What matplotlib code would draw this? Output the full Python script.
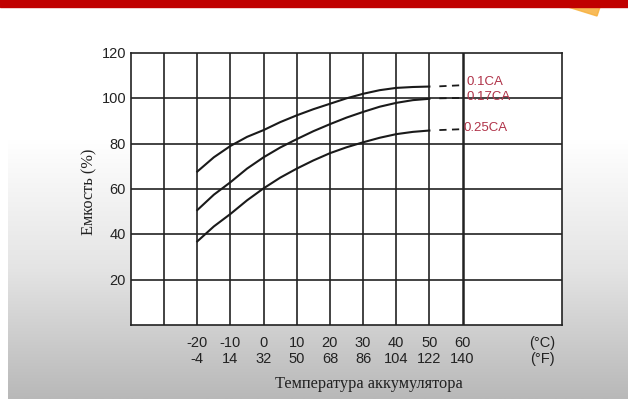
import numpy as np
import matplotlib
matplotlib.use("Agg")
import matplotlib.pyplot as plt
from matplotlib.patches import Polygon, Rectangle

## -- data
temp_c = [-20, -15, -10, -5, 0, 5, 10, 15, 20, 25, 30, 35, 40, 45, 50]
cap_01 = [67.7, 74, 79, 83, 86, 89.5, 92.5, 95.2, 97.6, 100, 102, 103.6, 104.6, 105, 105.2]
cap_017 = [50.7, 57.5, 63, 69, 74, 78.3, 82, 85.5, 88.6, 91.5, 94, 96.3, 98, 99.2, 99.8]
cap_025 = [36.9, 43.5, 49, 55, 60.3, 65, 69, 72.6, 75.8, 78.4, 80.6, 82.6, 84.2, 85.2, 85.8]

dash_t = [53, 60]
dash_01 = [105.3, 105.8]
dash_017 = [100.0, 100.2]
dash_025 = [86.0, 86.4]

labels = ["0.1CA", "0.17CA", "0.25CA"]
label_y = [107.5, 101.0, 87.5]

tick_c = [-20, -10, 0, 10, 20, 30, 40, 50, 60]
tick_f = [-4, 14, 32, 50, 68, 86, 104, 122, 140]
yticks = [20, 40, 60, 80, 100, 120]

W, H = 628, 406
fig = plt.figure(figsize=(W / 100, H / 100), dpi=100)
fig.patch.set_facecolor("white")

## -- slide background: gray gradient panel, red bar, orange corner
bg = fig.add_axes([0, 0, 1, 1], zorder=-10)
bg.axis("off")
grad = np.linspace(0, 1, 256).reshape(-1, 1)
cmap = matplotlib.colors.LinearSegmentedColormap.from_list("g", ["#ffffff", "#e4e4e4", "#b8b8b8"])
bg.imshow(grad, extent=(8, W, 400, 140), cmap=cmap, aspect="auto", zorder=0)
bg.add_patch(Rectangle((0, 0), W, 8, color="#c00000", zorder=2))
bg.add_patch(Polygon([(568, 8), (600, 8), (597, 17)], closed=True, color="#f7b03c", alpha=0.85, zorder=1))
bg.set_xlim(0, W)
bg.set_ylim(H, 0)

## -- chart
ax = fig.add_axes([131 / W, 1 - 326 / H, (562 - 131) / W, (326 - 54) / H])
ax.set_facecolor("white")
ax.set_xlim(-40, 90)
ax.set_ylim(0, 120)

for x in range(-30, 70, 10):
    ax.axvline(x, color="#222222", lw=1.8 if x == 60 else 1.2, zorder=1)
for y in yticks[:-1]:
    ax.axhline(y, color="#222222", lw=1.2, zorder=1)
for s in ax.spines.values():
    s.set_color("#222222")
    s.set_linewidth(1.2)

for vals, d in [(cap_01, dash_01), (cap_017, dash_017), (cap_025, dash_025)]:
    ax.plot(temp_c, vals, color="#1a1a1a", lw=1.5, zorder=3)
    ax.plot(dash_t, d, color="#1a1a1a", lw=1.3, ls=(0, (4, 3)), zorder=3)

for lab, ly in zip(labels, label_y):
    ax.text(61.2 if lab != "0.25CA" else 60.2, ly, lab, color="#b03349", fontsize=9.5,
            family="Liberation Sans", va="center", ha="left", zorder=4)

ax.set_xticks([])
ax.set_yticks([])
for y in yticks:
    ax.text(-41.5, y, str(y), ha="right", va="center", fontsize=10.5,
            family="Liberation Sans", color="#222222")

for c, f in zip(tick_c, tick_f):
    ax.text(c, -4.5, str(c), ha="center", va="top", fontsize=10.5,
            family="Liberation Sans", color="#222222")
    ax.text(c, -11.5, str(f), ha="center", va="top", fontsize=10.5,
            family="Liberation Sans", color="#222222")
ax.text(84, -4.5, "(°C)", ha="center", va="top", fontsize=10.5, family="Liberation Sans", color="#222222")
ax.text(84, -11.5, "(°F)", ha="center", va="top", fontsize=10.5, family="Liberation Sans", color="#222222")

fig.text(89 / W, 1 - 192 / H, "Емкость (%)", rotation=90, ha="center", va="center",
         fontsize=11.8, family="Liberation Serif", color="#222222")
fig.text(369 / W, 1 - 384 / H, "Температура аккумулятора", ha="center", va="center",
         fontsize=11.8, family="Liberation Serif", color="#222222")

plt.savefig("out.png", dpi=100)
